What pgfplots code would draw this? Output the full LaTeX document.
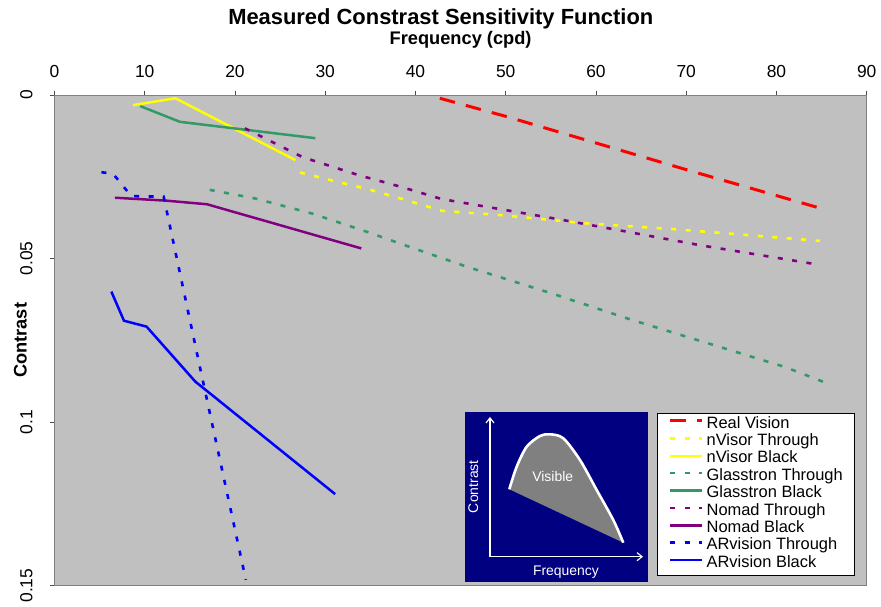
\documentclass[border=0pt]{standalone}
\usepackage{pgfplots}
\pgfplotsset{compat=1.18}
\usepackage{fontspec}
\setmainfont{Liberation Sans}
\usetikzlibrary{arrows.meta}

\definecolor{plotgray}{RGB}{192,192,192}
\definecolor{framegray}{RGB}{128,128,128}
\definecolor{rv}{RGB}{255,0,0}
\definecolor{nvis}{RGB}{255,255,0}
\definecolor{glass}{RGB}{51,153,102}
\definecolor{nomad}{RGB}{128,0,128}
\definecolor{arv}{RGB}{0,0,255}
\definecolor{navy}{RGB}{0,0,128}
\definecolor{insetgray}{RGB}{128,128,128}

\begin{document}
\begin{tikzpicture}
\useasboundingbox (-54.5bp,-21.3bp) rectangle (826.5bp,585.7bp);
\begin{axis}[
    at={(0,0)}, anchor=south west,
    scale only axis, width=812.2bp, height=490.7bp,
    xmin=0, xmax=90, ymin=0, ymax=0.15, y dir=reverse,
    axis background/.style={fill=plotgray},
    axis line style={framegray, line width=1bp},
    xtick={0,10,...,90},
    ytick={0,0.05,0.1,0.15}, yticklabels={0,0.05,0.1,0.15},
    xtick pos=upper, xticklabel pos=upper, ytick pos=left,
    tick align=outside, major tick length=4.5bp,
    tick style={black!70, line width=0.8bp},
    /pgf/number format/assume math mode=true,
    ticklabel style={font=\fontsize{17.5}{18}\selectfont},
    xticklabel style={anchor=base, inner sep=0pt, yshift=12.7bp},
    yticklabel style={xshift=-17.5bp, rotate=90, anchor=base, inner sep=0pt},
    title={Measured Constrast Sensitivity Function},
    title style={at={(axis description cs:0.4756,1)}, anchor=base, yshift=65bp,
        inner sep=0pt, font=\fontsize{22}{22}\selectfont\bfseries},
    xlabel={Frequency (cpd)},
    xlabel style={at={(axis description cs:0.5,1)}, anchor=base, yshift=51bp,
        inner sep=0pt, font=\fontsize{18.3}{18.3}\selectfont\bfseries},
    ylabel={Contrast},
    ylabel style={at={(axis description cs:0,0.5)}, anchor=base, yshift=27.8bp,
        inner sep=0pt, font=\fontsize{18.3}{18.3}\selectfont\bfseries},
    legend cell align=left,
    legend style={at={(0.7415,0.3526)}, anchor=north west, draw=black, line width=0.6bp,
        fill=white, font=\fontsize{16.5}{17}\selectfont,
        inner xsep=11.6bp, inner ysep=2.8bp, row sep=0pt, column sep=3.3bp,
        nodes={inner sep=0pt, text height=12.4bp, text depth=5bp}},
    legend image code/.code={\draw[#1] (0bp,0.35em) -- (31.7bp,0.35em);},
    through/.style={line width=2.6bp, dash pattern=on 5bp off 9.5bp},
    black run/.style={line width=2.5bp},
]
\addplot[rv, line width=3bp, dash pattern=on 15.6bp off 11.3bp] coordinates {
    (42.7,0.0010) (50.1,0.0066) (70.1,0.0229) (84.6,0.0344)};
\addlegendentry{Real Vision}
\addplot[nvis, through] coordinates {
    (27.2,0.0237) (35.0,0.0290) (38.3,0.0316) (42.9,0.0354) (49.4,0.0367)
    (58.8,0.0392) (68.6,0.0410) (84.8,0.0446)};
\addlegendentry{nVisor Through}
\addplot[nvis, black run] coordinates {
    (8.7,0.0031) (13.4,0.0010) (26.7,0.0199)};
\addlegendentry{nVisor Black}
\addplot[glass, through] coordinates {
    (17.2,0.0290) (22.2,0.0316) (28.5,0.0362) (34.6,0.0418) (39.0,0.0461)
    (45.7,0.0525) (54.7,0.0603) (63.8,0.0686) (73.0,0.0764) (81.0,0.0832) (85.4,0.0879)};
\addlegendentry{Glasstron Through}
\addplot[glass, black run] coordinates {
    (9.5,0.0034) (13.9,0.0082) (16.9,0.0092) (28.9,0.0132)};
\addlegendentry{Glasstron Black}
\addplot[nomad, through] coordinates {
    (21.1,0.0102) (27.5,0.0190) (33.7,0.0245) (38.3,0.0280) (42.9,0.0318)
    (49.4,0.0349) (55.7,0.0379) (60.5,0.0403) (71.5,0.0459) (84.3,0.0517)};
\addlegendentry{Nomad Through}
\addplot[nomad, black run] coordinates {
    (6.7,0.0314) (12.4,0.0323) (16.9,0.0334) (34.0,0.0469)};
\addlegendentry{Nomad Black}
\addplot[arv, through] coordinates {
    (5.2,0.0236) (6.5,0.0241) (8.5,0.0309) (12.1,0.0311) (16.1,0.0830) (21.2,0.1482)};
\addlegendentry{ARvision Through}
\addplot[arv, black run] coordinates {
    (6.3,0.0601) (7.7,0.0690) (10.2,0.0708) (15.6,0.0876) (31.1,0.1220)};
\addlegendentry{ARvision Black}
\end{axis}

% inset sketch of a contrast sensitivity curve, in pixel units of the reference
\begin{scope}[x=1bp, y=-1bp, shift={(-54.5bp,585.7bp)}]
\fill[navy] (465,411.7) rectangle (648.3,581.7);
\fill[insetgray] plot[smooth] coordinates {(509.3,489.3) (516.7,466.7) (526.7,446.7)
    (540,436) (550,434.3) (563.3,438.3) (580,460) (596.7,490) (613.3,520) (623.3,542.7)} -- cycle;
\draw[white, line width=2.6bp] plot[smooth] coordinates {(509.3,489.3) (516.7,466.7)
    (526.7,446.7) (540,436) (550,434.3) (563.3,438.3) (580,460) (596.7,490) (613.3,520) (623.3,542.7)};
\draw[white, line width=1.2bp, -{Straight Barb[length=5bp,width=8bp]}] (490,556.7) -- (490,417);
\draw[white, line width=1.2bp, -{Straight Barb[length=5bp,width=8bp]}] (490,556.7) -- (643,556.7);
\node[white, font=\fontsize{14}{14}\selectfont, rotate=90] at (473.3,486.7) {Contrast};
\node[white, font=\fontsize{14}{14}\selectfont] at (566,571.7) {Frequency};
\node[white, font=\fontsize{14}{14}\selectfont] at (552.7,476.7) {Visible};
\end{scope}
\end{tikzpicture}
\end{document}
